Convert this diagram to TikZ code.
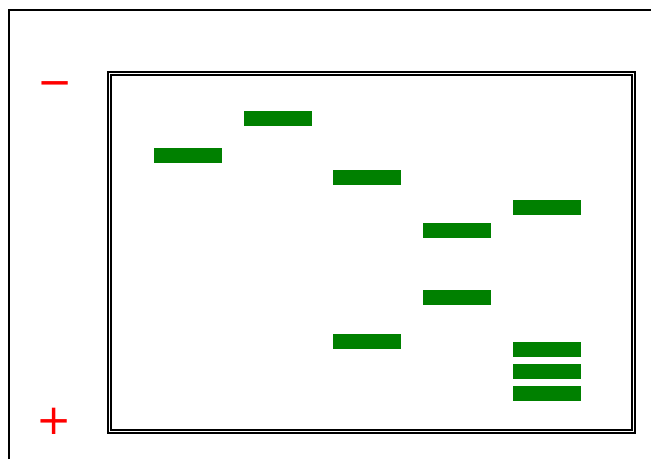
\documentclass[tikz,border=0pt]{standalone}
\usepackage{fontspec}
\usepackage{tikz}
\newfontfamily\polefont{DejaVu Sans}
\definecolor{gel_vert}{HTML}{008000}
\definecolor{gel_rouge}{HTML}{FF0000}

\tikzset{
    band/.style={fill=gel_vert, draw=none},
    pole/.style={text=gel_rouge, inner sep=0pt, anchor=base, font=\polefont\fontsize{42}{42}\selectfont}
}

\begin{document}
\begin{tikzpicture}[x=1pt, y=-1pt]
    \useasboundingbox (0,0) rectangle (651,459);

    % tank
    \draw[line width=2pt] (9,459) -- (9,10) -- (651,10);
    \draw[double, line width=1.4pt, double distance=1.4pt] (109.5,73.5) rectangle (633.5,431.5);

    % electrodes
    \node[pole] (minus) at (55,96) {−};
    \node[pole] (plus) at (54,434) {+};

    % lane 1
    \fill[band] (154,148) rectangle (222,163);
    % lane 2
    \fill[band] (244,111) rectangle (312,126);
    % lane 3
    \fill[band] (333,170) rectangle (401,185);
    \fill[band] (333,334) rectangle (401,349);
    % lane 4
    \fill[band] (423,223) rectangle (491,238);
    \fill[band] (423,290) rectangle (491,305);
    % lane 5
    \fill[band] (513,200) rectangle (581,215);
    \fill[band] (513,342) rectangle (581,357);
    \fill[band] (513,364) rectangle (581,379);
    \fill[band] (513,386) rectangle (581,401);

\end{tikzpicture}
\end{document}
